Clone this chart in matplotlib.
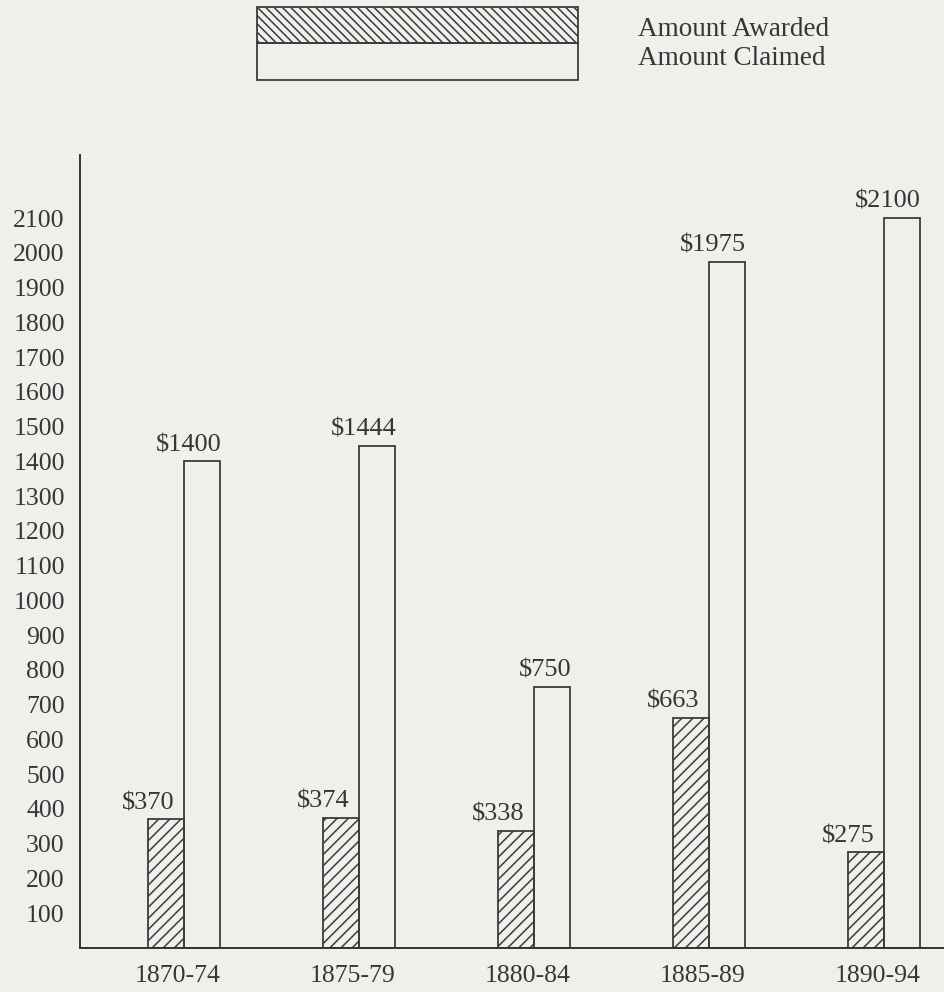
import matplotlib.pyplot as plt
from matplotlib.patches import Rectangle

periods = ['1870-74', '1875-79', '1880-84', '1885-89', '1890-94']
awarded = [370, 374, 338, 663, 275]
claimed = [1400, 1444, 750, 1975, 2100]
yticks = list(range(100, 2200, 100))

bg = '#efefec'
ink = '#363636'
plt.rcParams['font.family'] = ['Liberation Serif', 'DejaVu Serif']
plt.rcParams['hatch.color'] = '#3c3c3c'
plt.rcParams['hatch.linewidth'] = 1.1

W, H = 945, 992
fig = plt.figure(figsize=(W / 100, H / 100), dpi=100, facecolor=bg)
ax = fig.add_axes([80 / W, 44 / H, 865 / W, 793 / H])
ax.set_facecolor(bg)

x = list(range(len(periods)))
bw = 0.205
ax.bar([i - bw for i in x], awarded, width=bw, align='edge', facecolor='none',
       edgecolor='#3c3c3c', linewidth=1.3, hatch='///')
ax.bar(x, claimed, width=bw, align='edge', facecolor='none',
       edgecolor='#3c3c3c', linewidth=1.3)

for i in x:
    ax.annotate(f'${awarded[i]}', (i - bw, awarded[i]), xytext=(0, 7.5),
                textcoords='offset points', ha='center', va='baseline',
                fontsize=19, color=ink)
    ax.annotate(f'${claimed[i]}', (i + bw, claimed[i]), xytext=(1, 7.5),
                textcoords='offset points', ha='right', va='baseline',
                fontsize=19, color=ink)

ax.set_xlim(-0.594, 4.349)
ax.set_ylim(0, 2282)
ax.set_yticks(yticks)
ax.set_yticklabels([str(v) for v in yticks], fontsize=18.5, color=ink)
ax.set_xticks([i - 0.034 for i in x])
ax.set_xticklabels(periods, fontsize=18.5, color=ink)
ax.tick_params(axis='y', length=0, pad=11)
ax.tick_params(axis='x', length=0, pad=12)

for s in ['top', 'right']:
    ax.spines[s].set_visible(False)
for s in ['left', 'bottom']:
    ax.spines[s].set_color('#333333')
    ax.spines[s].set_linewidth(1.4)

# legend drawn by hand: two stacked boxes
fig.add_artist(Rectangle((257 / W, 1 - 43 / H), 321 / W, 36 / H,
                         transform=fig.transFigure, facecolor='none',
                         edgecolor='#3c3c3c', linewidth=1.3, hatch='\\\\\\\\'))
fig.add_artist(Rectangle((257 / W, 1 - 80 / H), 321 / W, 37 / H,
                         transform=fig.transFigure, facecolor='none',
                         edgecolor='#3c3c3c', linewidth=1.3))
fig.text(638 / W, 1 - 36 / H, 'Amount Awarded', fontsize=19.5, color=ink,
         va='baseline', ha='left')
fig.text(638 / W, 1 - 65 / H, 'Amount Claimed', fontsize=19.5, color=ink,
         va='baseline', ha='left')

fig.savefig('out.png', dpi=100, facecolor=bg)
